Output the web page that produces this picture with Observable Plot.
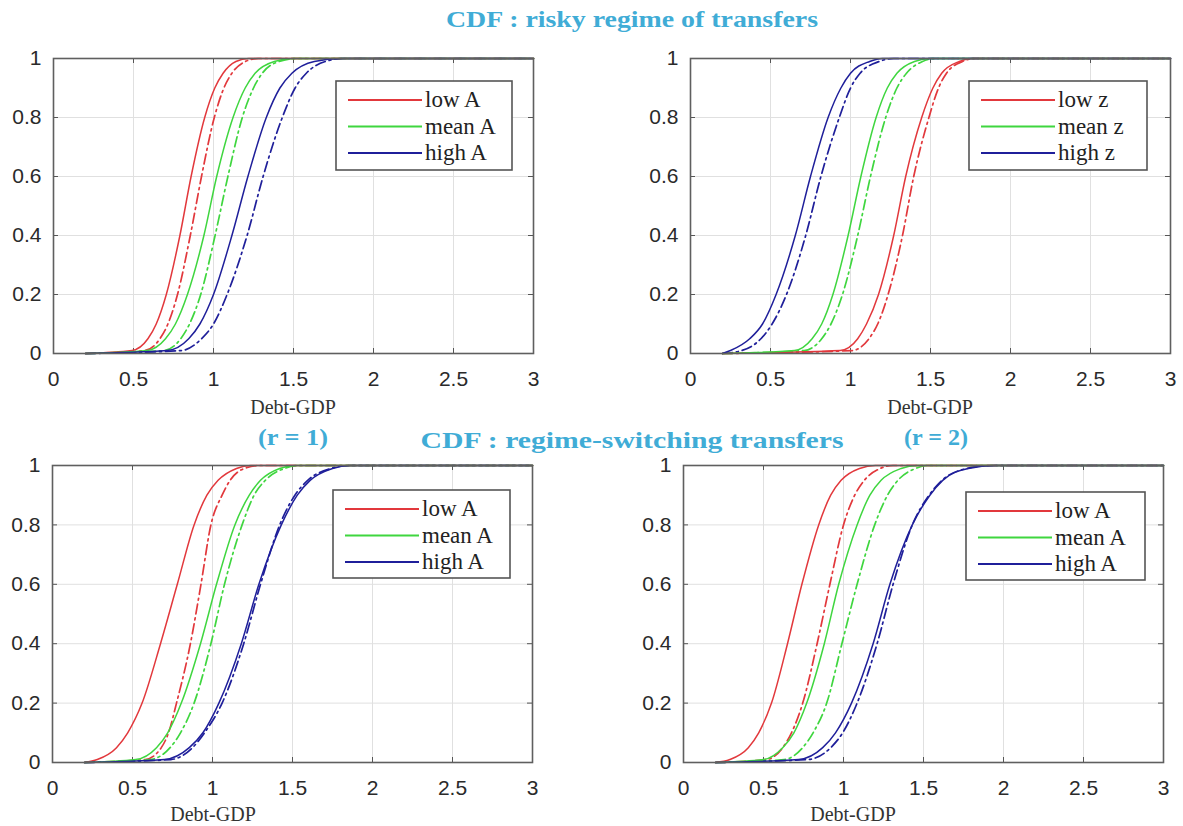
<!DOCTYPE html>
<html><head><meta charset="utf-8">
<script src="https://cdn.jsdelivr.net/npm/d3@7"></script>
<script src="https://cdn.jsdelivr.net/npm/@observablehq/plot@0.6"></script>
<style>
body{margin:0;background:#fff}
#root{position:relative;width:1183px;height:826px;overflow:hidden;background:#fff}
.panel{position:absolute}
#overlay{position:absolute;left:0;top:0}
</style></head><body><div id="root"></div>
<script>
// ---------- data ----------
// CDF levels at which the curves were read off the picture (first point x=0.2, last point x=3)
const levels = [0, 0.01, 0.05, 0.1, 0.2, 0.4, 0.6, 0.8, 0.9, 0.95, 0.99, 1, 1];
const xTicks = [0, 0.5, 1, 1.5, 2, 2.5, 3];
const xTickLabels = ["0", "0.5", "1", "1.5", "2", "2.5", "3"];
const yTicks = [0, 0.2, 0.4, 0.6, 0.8, 1];
const yTickLabels = ["0", "0.2", "0.4", "0.6", "0.8", "1"];
const seriesColors = ["#e2383c", "#3fd63f", "#1f1f9a"];
const legendA = ["low A", "mean A", "high A"];
const legendZ = ["low z", "mean z", "high z"];
const titles = ["CDF : risky regime of transfers", "CDF : regime-switching transfers", "(r = 1)", "(r = 2)"];
const xLabel = "Debt-GDP";

// Panel 1: risky regime, productivity A (x = Debt-GDP at each CDF level)
const risky_lowA_solid  = [0.2, 0.49, 0.59, 0.642, 0.705, 0.79, 0.86, 0.945, 1.008, 1.06, 1.14, 1.22, 3];
const risky_lowA_dash   = [0.2, 0.57, 0.665, 0.715, 0.775, 0.855, 0.925, 1.005, 1.065, 1.115, 1.20, 1.28, 3];
const risky_meanA_solid = [0.2, 0.585, 0.70, 0.762, 0.837, 0.94, 1.02, 1.122, 1.198, 1.26, 1.38, 1.50, 3];
const risky_meanA_dash  = [0.2, 0.69, 0.795, 0.85, 0.92, 1.01, 1.09, 1.18, 1.25, 1.305, 1.41, 1.52, 3];
const risky_highA_solid = [0.2, 0.71, 0.845, 0.915, 1.0, 1.115, 1.215, 1.33, 1.415, 1.49, 1.63, 1.80, 3];
const risky_highA_dash  = [0.2, 0.80, 0.925, 1.0, 1.085, 1.21, 1.31, 1.43, 1.51, 1.58, 1.70, 1.82, 3];

// Panel 2: risky regime, z
const risky_lowz_solid  = [0.2, 0.935, 1.045, 1.10, 1.175, 1.27, 1.345, 1.445, 1.515, 1.57, 1.68, 1.76, 3];
const risky_lowz_dash   = [0.2, 1.01, 1.115, 1.17, 1.235, 1.325, 1.395, 1.49, 1.55, 1.60, 1.70, 1.78, 3];
const risky_meanz_solid = [0.2, 0.65, 0.76, 0.82, 0.89, 0.985, 1.065, 1.16, 1.23, 1.29, 1.40, 1.50, 3];
const risky_meanz_dash  = [0.2, 0.71, 0.82, 0.878, 0.95, 1.045, 1.125, 1.22, 1.29, 1.35, 1.45, 1.53, 3];
const risky_highz_solid = [0.2, 0.25, 0.37, 0.45, 0.535, 0.655, 0.75, 0.86, 0.94, 1.0, 1.12, 1.20, 3];
const risky_highz_dash  = [0.2, 0.32, 0.44, 0.51, 0.60, 0.72, 0.815, 0.93, 1.0, 1.06, 1.18, 1.27, 3];

// Panel 3: regime-switching, r = 1
const rs1_lowA_solid  = [0.2, 0.28, 0.40, 0.47, 0.56, 0.675, 0.78, 0.885, 0.965, 1.035, 1.15, 1.24, 3];
const rs1_lowA_dash   = [0.2, 0.58, 0.68, 0.725, 0.775, 0.862, 0.928, 0.99, 1.06, 1.11, 1.20, 1.30, 3];
const rs1_meanA_solid = [0.2, 0.52, 0.65, 0.72, 0.805, 0.925, 1.025, 1.14, 1.23, 1.30, 1.42, 1.52, 3];
const rs1_meanA_dash  = [0.2, 0.61, 0.735, 0.80, 0.885, 0.99, 1.075, 1.185, 1.26, 1.33, 1.45, 1.55, 3];
const rs1_highA_solid = [0.2, 0.70, 0.855, 0.94, 1.04, 1.18, 1.29, 1.43, 1.53, 1.61, 1.75, 1.86, 3];
const rs1_highA_dash  = [0.2, 0.74, 0.875, 0.95, 1.06, 1.195, 1.30, 1.42, 1.515, 1.595, 1.74, 1.85, 3];

// Panel 4: regime-switching, r = 2
const rs2_lowA_solid  = [0.2, 0.29, 0.405, 0.47, 0.55, 0.65, 0.74, 0.845, 0.92, 0.985, 1.10, 1.20, 3];
const rs2_lowA_dash   = [0.2, 0.52, 0.62, 0.675, 0.745, 0.835, 0.915, 1.0, 1.07, 1.13, 1.23, 1.31, 3];
const rs2_meanA_solid = [0.2, 0.50, 0.62, 0.69, 0.77, 0.88, 0.97, 1.085, 1.165, 1.235, 1.36, 1.46, 3];
const rs2_meanA_dash  = [0.2, 0.63, 0.745, 0.81, 0.895, 0.99, 1.085, 1.195, 1.275, 1.34, 1.45, 1.52, 3];
const rs2_highA_solid = [0.2, 0.72, 0.87, 0.95, 1.05, 1.185, 1.29, 1.43, 1.54, 1.62, 1.78, 1.95, 3];
const rs2_highA_dash  = [0.2, 0.78, 0.92, 0.995, 1.085, 1.21, 1.31, 1.43, 1.535, 1.615, 1.77, 1.92, 3];

// ---------- layout ----------
const panels = [
  {frame: {l: 53, t: 58, r: 533, b: 353}, labels: legendA, legend: {x: 336, y: 81, w: 176, h: 89},
   xlab: {x: 293, y: 414},
   solid: [risky_lowA_solid, risky_meanA_solid, risky_highA_solid],
   dash: [risky_lowA_dash, risky_meanA_dash, risky_highA_dash]},
  {frame: {l: 690, t: 58, r: 1170, b: 353}, labels: legendZ, legend: {x: 969, y: 81, w: 178, h: 89},
   xlab: {x: 930, y: 414},
   solid: [risky_lowz_solid, risky_meanz_solid, risky_highz_solid],
   dash: [risky_lowz_dash, risky_meanz_dash, risky_highz_dash]},
  {frame: {l: 52, t: 465, r: 532, b: 762}, labels: legendA, legend: {x: 333, y: 490, w: 177, h: 88},
   xlab: {x: 213, y: 821},
   solid: [rs1_lowA_solid, rs1_meanA_solid, rs1_highA_solid],
   dash: [rs1_lowA_dash, rs1_meanA_dash, rs1_highA_dash]},
  {frame: {l: 683, t: 465, r: 1163, b: 762}, labels: legendA, legend: {x: 966, y: 492, w: 179, h: 88},
   xlab: {x: 853, y: 821},
   solid: [rs2_lowA_solid, rs2_meanA_solid, rs2_highA_solid],
   dash: [rs2_lowA_dash, rs2_meanA_dash, rs2_highA_dash]}
];

const root = document.getElementById("root");
const ML = 70, MT = 20, MR = 12, MB = 45, TICK = 5;
const DASH = "10,4,2,4";

panels.forEach(p => {
  const fw = p.frame.r - p.frame.l, fh = p.frame.b - p.frame.t;
  const tx = TICK / fw * 3, ty = TICK / fh;
  const marks = [
    Plot.gridX(xTicks, {stroke: "#e0e0e0", strokeOpacity: 1, strokeWidth: 1}),
    Plot.gridY(yTicks, {stroke: "#e0e0e0", strokeOpacity: 1, strokeWidth: 1}),
    Plot.ruleX(xTicks, {x: d => d, y1: 0, y2: ty, stroke: "#555", strokeWidth: 1}),
    Plot.ruleX(xTicks, {x: d => d, y1: 1 - ty, y2: 1, stroke: "#555", strokeWidth: 1}),
    Plot.ruleY(yTicks, {y: d => d, x1: 0, x2: tx, stroke: "#555", strokeWidth: 1}),
    Plot.ruleY(yTicks, {y: d => d, x1: 3 - tx, x2: 3, stroke: "#555", strokeWidth: 1})
  ];
  p.dash.forEach((xs, i) => {
    marks.push(Plot.line(levels.map((y, j) => ({x: xs[j], y})), {
      x: "x", y: "y", stroke: seriesColors[i], strokeWidth: 1.7,
      strokeDasharray: DASH, curve: "monotone-x"
    }));
  });
  p.solid.forEach((xs, i) => {
    marks.push(Plot.line(levels.map((y, j) => ({x: xs[j], y})), {
      x: "x", y: "y", stroke: seriesColors[i], strokeWidth: 1.5, curve: "monotone-x"
    }));
  });
  marks.push(Plot.frame({stroke: "#5f5f5f", strokeWidth: 1.6}));
  marks.push(Plot.axisX(xTicks, {
    tickSize: 0, tickPadding: 18, fontSize: 21, label: null,
    tickFormat: d => xTickLabels[xTicks.indexOf(d)]
  }));
  marks.push(Plot.axisY(yTicks, {
    tickSize: 0, tickPadding: 12, fontSize: 21, label: null,
    tickFormat: d => yTickLabels[yTicks.indexOf(d)]
  }));
  const chart = Plot.plot({
    width: ML + fw + MR, height: MT + fh + MB,
    marginLeft: ML, marginTop: MT, marginRight: MR, marginBottom: MB,
    x: {domain: [0, 3]}, y: {domain: [0, 1]},
    style: {fontFamily: "'Liberation Sans', Arial, sans-serif", color: "#2a2a2a", background: "transparent", overflow: "visible"},
    marks
  });
  const div = document.createElement("div");
  div.className = "panel";
  div.style.left = (p.frame.l - ML) + "px";
  div.style.top = (p.frame.t - MT) + "px";
  div.appendChild(chart);
  root.appendChild(div);
});

// ---------- overlay: titles, axis labels, legends ----------
const svg = d3.select(root).append("svg").attr("id", "overlay").attr("width", 1183).attr("height", 826);
const titleColor = "#40acd6";
const titleSpecs = [
  {t: titles[0], x: 632, y: 27, len: 372},
  {t: titles[1], x: 632, y: 448, len: 423},
  {t: titles[2], x: 293, y: 445, len: 70},
  {t: titles[3], x: 936, y: 445, len: 64}
];
titleSpecs.forEach(s => {
  svg.append("text").attr("x", s.x).attr("y", s.y).attr("text-anchor", "middle")
    .attr("font-family", "'Liberation Serif', 'Times New Roman', serif").attr("font-weight", "bold")
    .attr("font-size", 24).attr("fill", titleColor)
    .attr("textLength", s.len).attr("lengthAdjust", "spacingAndGlyphs").text(s.t);
});
panels.forEach(p => {
  svg.append("text").attr("x", p.xlab.x).attr("y", p.xlab.y).attr("text-anchor", "middle")
    .attr("font-family", "'Liberation Serif', 'Times New Roman', serif").attr("font-size", 20)
    .attr("fill", "#333").text(xLabel);
  const L = p.legend;
  svg.append("rect").attr("x", L.x).attr("y", L.y).attr("width", L.w).attr("height", L.h)
    .attr("fill", "#fff").attr("stroke", "#555").attr("stroke-width", 1.6);
  p.labels.forEach((lab, i) => {
    const cy = L.y + 19 + i * 26.5;
    svg.append("line").attr("x1", L.x + 12).attr("x2", L.x + 86).attr("y1", cy).attr("y2", cy)
      .attr("stroke", seriesColors[i]).attr("stroke-width", 1.8);
    svg.append("text").attr("x", L.x + 89).attr("y", cy + 7)
      .attr("font-family", "'Liberation Serif', 'Times New Roman', serif").attr("font-size", 23)
      .attr("fill", "#222").text(lab);
  });
});
</script></body></html>
